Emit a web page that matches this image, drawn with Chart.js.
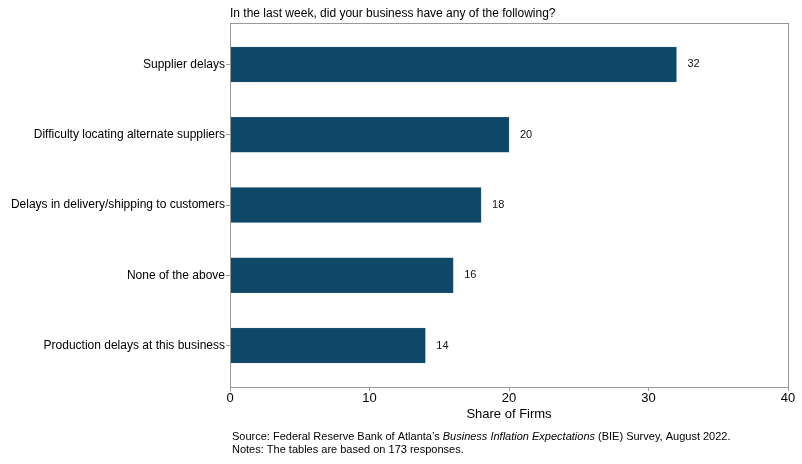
<!DOCTYPE html>
<html>
<head>
<meta charset="utf-8">
<script src="https://cdn.jsdelivr.net/npm/chart.js@4"></script>
<style>
  body { margin: 0; background: #fff; }
  #wrap { width: 802px; height: 464px; position: relative; }
</style>
</head>
<body>
<div id="wrap"><canvas id="chartBarras"></canvas></div>
<script>
// categories top to bottom
const categorias = [
  'Supplier delays',
  'Difficulty locating alternate suppliers',
  'Delays in delivery/shipping to customers',
  'None of the above',
  'Production delays at this business'
];
const valores = [32, 20, 18, 16, 14];
const ticksX = [0, 10, 20, 30, 40];

const titulo = 'In the last week, did your business have any of the following?';
const fuente = 'Liberation Sans, Arial, sans-serif';

// etiquetas, marco y notas
const extras = {
  id: 'extras',
  afterDraw(chart) {
    const ctx = chart.ctx;
    const area = chart.chartArea;
    ctx.save();
    ctx.strokeStyle = '#999';
    ctx.lineWidth = 1;
    ctx.strokeRect(Math.round(area.left) + 0.5, Math.round(area.top) + 0.5,
      Math.round(area.right - area.left), Math.round(area.bottom - area.top));

    // valores al lado de cada barra
    ctx.fillStyle = '#111';
    ctx.font = '11px ' + fuente;
    ctx.textBaseline = 'middle';
    ctx.textAlign = 'left';
    chart.getDatasetMeta(0).data.forEach((bar, i) => {
      ctx.fillText(valores[i], bar.x + 11, bar.y);
    });

    // titulo
    ctx.fillStyle = '#000';
    ctx.font = '12px ' + fuente;
    ctx.textBaseline = 'alphabetic';
    ctx.fillText(titulo, area.left, 17);

    // notas
    let x = 232, y = 440;
    const partes = [
      ['Source: Federal Reserve Bank of Atlanta\u2019s ', ''],
      ['Business Inflation Expectations', 'italic '],
      [' (BIE) Survey, August 2022.', '']
    ];
    partes.forEach(p => {
      ctx.font = p[1] + '11px ' + fuente;
      ctx.fillText(p[0], x, y);
      x += ctx.measureText(p[0]).width;
    });
    ctx.font = '11px ' + fuente;
    ctx.fillText('Notes: The tables are based on 173 responses.', 232, 453);
    ctx.restore();
  }
};

const ctxBarras = document.getElementById('chartBarras').getContext('2d');

new Chart(ctxBarras, {
  type: 'bar',
  data: {
    datasets: [{
      data: valores.map((v, i) => ({ x: v, y: i })),
      backgroundColor: '#0e4768',
      borderColor: '#2a6080',
      borderWidth: 0.6,
      barThickness: 35
    }]
  },
  options: {
    indexAxis: 'y',
    responsive: true,
    maintainAspectRatio: false,
    animation: false,
    layout: { padding: { top: 23, right: 14, bottom: 42, left: 0 } },
    plugins: {
      legend: { display: false },
      tooltip: { enabled: false }
    },
    scales: {
      x: {
        type: 'linear',
        min: 0,
        max: 40,
        afterBuildTicks: axis => { axis.ticks = ticksX.map(v => ({ value: v })); },
        grid: { display: true, offset: false, drawOnChartArea: false, drawTicks: true, tickLength: 4, color: '#999' },
        border: { display: true, color: '#999' },
        ticks: { color: '#000', font: { family: fuente, size: 13 }, padding: 0, maxRotation: 0 },
        title: {
          display: true,
          text: 'Share of Firms',
          color: '#000',
          font: { family: fuente, size: 13 },
          padding: { top: 0, bottom: 0 }
        },
        afterFit: scale => { scale.height = 35; }
      },
      y: {
        type: 'linear',
        reverse: true,
        offset: false,
        min: -0.59,
        max: 4.59,
        afterBuildTicks: axis => { axis.ticks = categorias.map((c, i) => ({ value: i })); },
        grid: { display: true, offset: false, drawOnChartArea: false, drawTicks: true, tickLength: 4, color: '#999' },
        border: { display: true, color: '#999' },
        ticks: {
          color: '#000',
          font: { family: fuente, size: 12 },
          padding: 1,
          callback: v => categorias[v]
        },
        afterFit: scale => { scale.width = 230; }
      }
    }
  },
  plugins: [extras]
});
</script>
</body>
</html>
